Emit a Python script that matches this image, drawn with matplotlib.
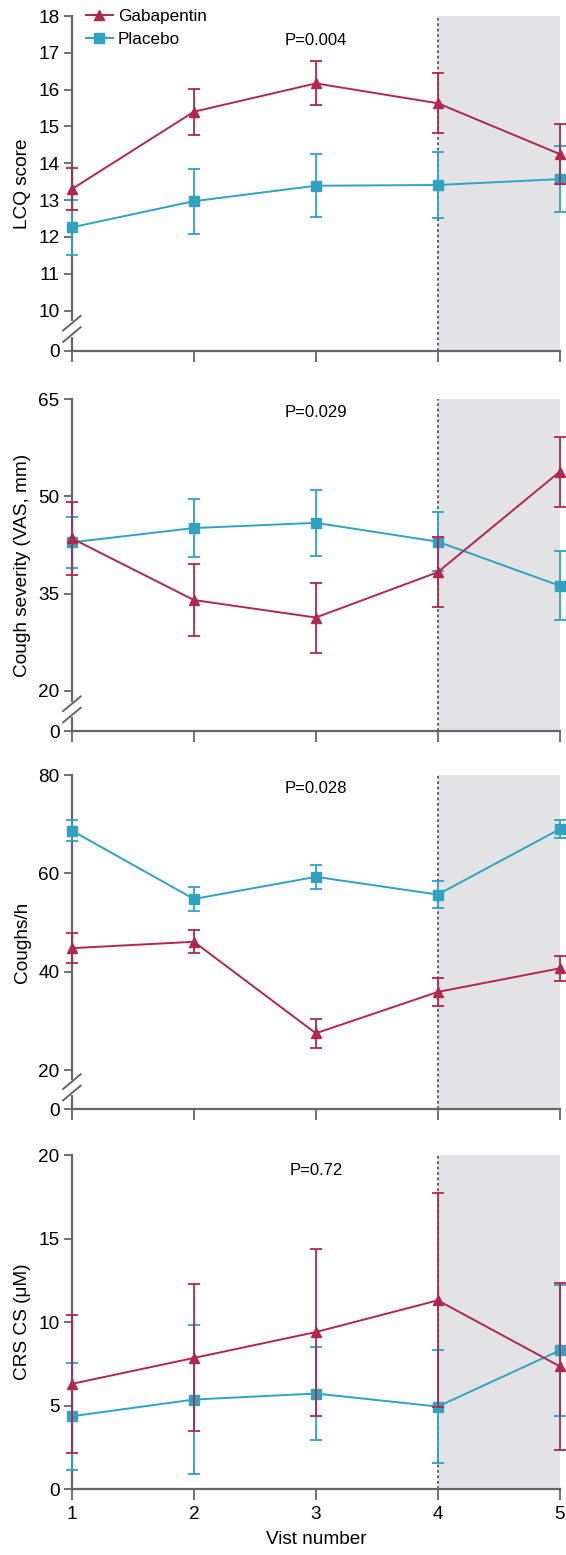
import numpy as np
import matplotlib
matplotlib.use("Agg")
import matplotlib.pyplot as plt
from matplotlib.lines import Line2D

plt.rcParams['font.family'] = ['Liberation Sans', 'DejaVu Sans']

visits = [1, 2, 3, 4, 5]

# LCQ score
lcq_gaba = [13.3, 15.4, 16.17, 15.63, 14.25]
lcq_gaba_err = [0.58, 0.62, 0.6, 0.82, 0.82]
lcq_plac = [12.26, 12.97, 13.39, 13.41, 13.57]
lcq_plac_err = [0.75, 0.88, 0.85, 0.9, 0.9]

# Cough severity (VAS, mm)
vas_gaba = [43.5, 34.0, 31.3, 38.3, 53.8]
vas_gaba_err = [5.6, 5.5, 5.4, 5.4, 5.4]
vas_plac = [42.9, 45.1, 45.9, 43.0, 36.2]
vas_plac_err = [3.9, 4.5, 5.1, 4.5, 5.3]

# Coughs/h
cph_gaba = [44.8, 46.1, 27.5, 35.9, 40.7]
cph_gaba_err = [3.0, 2.3, 2.9, 2.9, 2.6]
cph_plac = [68.7, 54.8, 59.3, 55.7, 69.0]
cph_plac_err = [2.2, 2.5, 2.5, 2.7, 1.9]

# CRS CS (uM)
crs_gaba = [6.3, 7.85, 9.4, 11.3, 7.35]
crs_gaba_err = [4.15, 4.4, 5.0, 6.4, 5.0]
crs_plac = [4.36, 5.36, 5.72, 4.94, 8.3]
crs_plac_err = [3.2, 4.45, 2.8, 3.4, 3.9]

panels = [
    dict(g=lcq_gaba, ge=lcq_gaba_err, p=lcq_plac, pe=lcq_plac_err,
         ylabel='LCQ score', yticks=[10, 11, 12, 13, 14, 15, 16, 17, 18],
         ymin=8.91, ymax=18, ptext='P=0.004', py=0.928),
    dict(g=vas_gaba, ge=vas_gaba_err, p=vas_plac, pe=vas_plac_err,
         ylabel='Cough severity (VAS, mm)', yticks=[20, 35, 50, 65],
         ymin=13.8, ymax=65, ptext='P=0.029', py=0.958),
    dict(g=cph_gaba, ge=cph_gaba_err, p=cph_plac, pe=cph_plac_err,
         ylabel='Coughs/h', yticks=[20, 40, 60, 80],
         ymin=12.1, ymax=80, ptext='P=0.028', py=0.96),
    dict(g=crs_gaba, ge=crs_gaba_err, p=crs_plac, pe=crs_plac_err,
         ylabel='CRS CS (\u03bcM)', yticks=[0, 5, 10, 15, 20],
         ymin=0, ymax=20, ptext='P=0.72', py=0.953),
]

red = '#b3264d'
teal = '#2ea3c2'
axis_col = '#666666'
fs = 13.7

fig = plt.figure(figsize=(5.66, 15.55), dpi=100)
boxes = [(0.7745, 0.2152), (0.5299, 0.2135), (0.2868, 0.2148), (0.0424, 0.2148)]

for i, (pn, (b, h)) in enumerate(zip(panels, boxes)):
    ax = fig.add_axes([0.127, b, 0.862, h])
    ax.axvspan(4, 5, color='#e3e3e6', zorder=0, lw=0)
    ax.axvline(4, color='#555555', ls=(0, (1.5, 1.5)), lw=1.3, zorder=1)

    ax.errorbar(visits, pn['p'], yerr=pn['pe'], color=teal, marker='s', ms=7,
                lw=1.4, elinewidth=1.3, capsize=4, capthick=1.3, clip_on=False,
                zorder=3)
    ax.errorbar(visits, pn['g'], yerr=pn['ge'], color=red, marker='^', ms=7.5,
                lw=1.4, elinewidth=1.3, capsize=4, capthick=1.3, clip_on=False,
                zorder=4)

    ax.set_xlim(1, 5)
    ax.set_ylim(pn['ymin'], pn['ymax'])
    ticks = list(pn['yticks'])
    labels = [str(t) for t in ticks]
    if pn['ymin'] != 0:
        ticks = [pn['ymin']] + ticks
        labels = ['0'] + labels
    ax.set_yticks(ticks)
    ax.set_yticklabels(labels)
    ax.set_xticks(visits)
    if i == 3:
        ax.set_xticklabels([str(v) for v in visits])
        ax.set_xlabel('Vist number', fontsize=fs, labelpad=6)
    else:
        ax.set_xticklabels([])

    for s in ['top', 'right']:
        ax.spines[s].set_visible(False)
    for s in ['left', 'bottom']:
        ax.spines[s].set_color(axis_col)
        ax.spines[s].set_linewidth(1.6)
    ax.tick_params(axis='both', colors=axis_col, width=1.3, labelsize=fs,
                   labelcolor='black')
    ax.tick_params(axis='x', length=8, pad=4)
    ax.tick_params(axis='y', length=6, pad=3)
    ax.set_ylabel(pn['ylabel'], fontsize=fs, labelpad=5)
    ax.text(3, pn['py'], pn['ptext'], transform=ax.get_xaxis_transform(),
            ha='center', va='center', fontsize=12)

    if pn['ymin'] != 0:
        # axis break marks
        ax.plot([0, 0], [0.048, 0.082], transform=ax.transAxes, color='white',
                lw=3, clip_on=False, zorder=5)
        for yb in [0.048, 0.082]:
            ax.plot([-0.018, 0.018], [yb - 0.022, yb + 0.022],
                    transform=ax.transAxes, color=axis_col, lw=1.4,
                    clip_on=False, zorder=6)

    if i == 0:
        hs = [Line2D([], [], color=red, marker='^', ms=7.5, lw=1.4),
              Line2D([], [], color=teal, marker='s', ms=7, lw=1.4)]
        ax.legend(hs, ['Gabapentin', 'Placebo'], loc='upper left',
                  bbox_to_anchor=(0.014, 1.04), frameon=False,
                  fontsize=12.3, handlelength=1.6, handletextpad=0.3,
                  labelspacing=0.45, borderaxespad=0)

fig.savefig('out.png', dpi=100)
